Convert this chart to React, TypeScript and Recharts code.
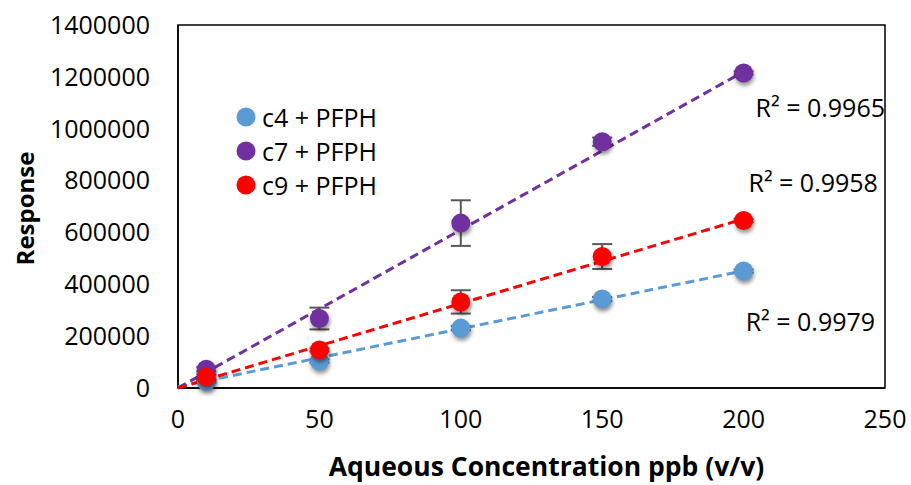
import { ScatterChart, Scatter, XAxis, YAxis, ErrorBar, ReferenceArea, ReferenceDot, Legend } from 'recharts';

// concentration levels (ppb v/v)
const concentrations = [10, 50, 100, 150, 200];

// mean responses
const c4Response = [25000, 104000, 231000, 343000, 451000];
const c7Response = [72000, 268000, 636000, 950000, 1215000];
const c9Response = [42000, 147000, 332000, 507000, 646000];

// error bar half-widths
const c4Error = [4000, 6000, 8000, 8000, 6000];
const c7Error = [8000, 42000, 88000, 16000, 6000];
const c9Error = [10000, 6000, 45000, 48000, 6000];

// linear trend lines, evaluated at the ends
const trendX = [0, 200];
const c4Trend = [5000, 452000];
const c7Trend = [0, 1220000];
const c9Trend = [0, 652000];

const rSquared = ['R² = 0.9979', 'R² = 0.9965', 'R² = 0.9958'];

const xTicks = [0, 50, 100, 150, 200, 250];
const yTicks = [0, 200000, 400000, 600000, 800000, 1000000, 1200000, 1400000];

const FONT = '"Open Sans", Lato, sans-serif';

const series = [
  { name: 'c4 + PFPH', color: '#5B9BD5', values: c4Response, errors: c4Error, trend: c4Trend, r2: rSquared[0], labelAt: { x: 246.5, y: 255000 } },
  { name: 'c7 + PFPH', color: '#7030A0', values: c7Response, errors: c7Error, trend: c7Trend, r2: rSquared[1], labelAt: { x: 250, y: 1080000 } },
  { name: 'c9 + PFPH', color: '#FF0000', values: c9Response, errors: c9Error, trend: c9Trend, r2: rSquared[2], labelAt: { x: 247.5, y: 790000 } },
];

const pointsFor = (values: number[], errors: number[]) =>
  concentrations.map((x, i) => ({ x, y: values[i], err: errors[i] }));

const trendFor = (trend: number[]) => trendX.map((x, i) => ({ x, y: trend[i] }));

const Dot = (props: any) => {
  const { cx, cy, fill } = props;
  if (cx == null || cy == null) return <g />;
  return (
    <circle
      cx={cx}
      cy={cy}
      r={9.5}
      fill={fill}
      style={{ filter: 'drop-shadow(1px 3px 2px rgba(0,0,0,0.45))' }}
    />
  );
};

const LegendBox = () => (
  <div style={{ fontFamily: FONT, fontSize: 25, lineHeight: '34px' }}>
    {series.map((s) => (
      <div key={s.name} style={{ display: 'flex', alignItems: 'center', height: 34 }}>
        <svg width={20} height={20} style={{ marginRight: 6 }}>
          <circle cx={10} cy={10} r={9.5} fill={s.color} />
        </svg>
        <span style={{ color: '#000' }}>{s.name}</span>
      </div>
    ))}
  </div>
);

export default function App() {
  return (
    <div style={{ position: 'absolute', left: 0, top: 0, width: 911, height: 485, background: '#fff' }}>
      <ScatterChart width={911} height={485} margin={{ top: 25, right: 26, left: 0, bottom: 0 }}>
        <XAxis
          type="number"
          dataKey="x"
          domain={[0, 250]}
          ticks={xTicks}
          tickLine={false}
          tickSize={0}
          tickMargin={22}
          height={97}
          axisLine={{ stroke: '#000', strokeWidth: 1.5 }}
          tick={{ fill: '#000', fontSize: 25, fontFamily: FONT }}
          label={{
            content: ({ viewBox }: any) => (
              <text
                x={viewBox.x + viewBox.width / 2 + 15}
                y={viewBox.y + 88}
                textAnchor="middle"
                fontFamily={FONT}
                fontWeight="bold"
                fontSize={26.5}
                fill="#000"
              >
                Aqueous Concentration ppb (v/v)
              </text>
            ),
          }}
        />
        <YAxis
          type="number"
          dataKey="y"
          domain={[0, 1400000]}
          ticks={yTicks}
          tickLine={false}
          tickSize={0}
          tickMargin={28}
          width={178}
          axisLine={{ stroke: '#000', strokeWidth: 1.5 }}
          tick={{ fill: '#000', fontSize: 25, fontFamily: FONT }}
          label={{
            content: ({ viewBox }: any) => (
              <text
                x={34}
                y={viewBox.y + viewBox.height / 2 + 2}
                transform={`rotate(-90, 34, ${viewBox.y + viewBox.height / 2 + 2})`}
                textAnchor="middle"
                fontFamily={FONT}
                fontWeight="bold"
                fontSize={24}
                fill="#000"
              >
                Response
              </text>
            ),
          }}
        />
        <ReferenceArea x1={0} x2={250} y1={0} y2={1400000} fill="none" stroke="#000" strokeWidth={1.5} />
        <Legend
          layout="horizontal"
          verticalAlign="middle"
          align="center"
          content={LegendBox}
          wrapperStyle={{ left: 236, top: 100, width: 200 }}
        />
        {series.map((s) => (
          <Scatter
            key={s.name + '-trend'}
            data={trendFor(s.trend)}
            line={{ stroke: s.color, strokeWidth: 3, strokeDasharray: '9 5' }}
            shape={() => <g />}
            legendType="none"
            isAnimationActive={false}
          />
        ))}
        {series.map((s) => (
          <Scatter
            key={s.name}
            name={s.name}
            data={pointsFor(s.values, s.errors)}
            fill={s.color}
            shape={<Dot />}
            isAnimationActive={false}
          >
            <ErrorBar dataKey="err" direction="y" width={10} stroke="#595959" strokeWidth={2} />
          </Scatter>
        ))}
        {series.map((s) => (
          <ReferenceDot
            key={s.name + '-r2'}
            x={s.labelAt.x}
            y={s.labelAt.y}
            r={0}
            fill="none"
            stroke="none"
            label={{ value: s.r2, position: 'left', offset: 0, fill: '#000', fontSize: 25, fontFamily: FONT }}
          />
        ))}
      </ScatterChart>
    </div>
  );
}
